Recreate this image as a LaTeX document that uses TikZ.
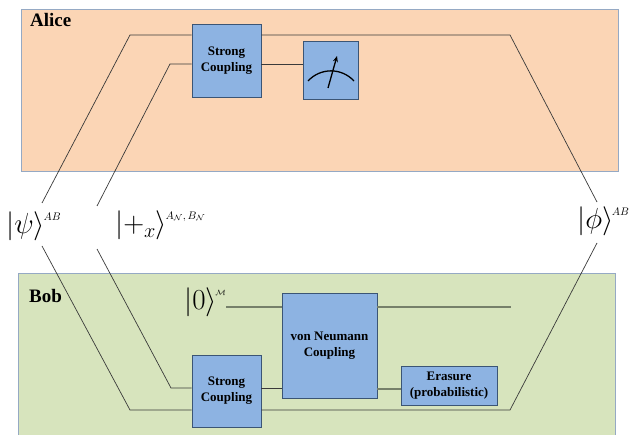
\RequirePackage{fix-cm}
\documentclass[tikz,border=0pt]{standalone}
\usepackage{fontspec}
\setmainfont{Liberation Serif}
\usepackage{amsmath}
\usetikzlibrary{calc,positioning,arrows.meta}
\definecolor{color_alice_fill}{HTML}{FBD5B5}
\definecolor{color_bob_fill}{HTML}{D7E4BD}
\definecolor{color_region_draw}{HTML}{95A9C4}
\definecolor{color_gate_fill}{HTML}{8DB3E2}
\definecolor{color_gate_draw}{HTML}{3B5575}
\definecolor{color_wire}{HTML}{3A3A3A}
\definecolor{color_soft_wire}{HTML}{76806A}
\newcommand{\kettag}[1]{\mbox{\fontsize{11}{11}\selectfont$#1$}}
\newcommand{\qket}[2]{$\left|\rule[-8pt]{0pt}{22pt}#1\right\rangle^{\kern-1.5pt\kettag{#2}}$}

\begin{document}
\begin{tikzpicture}[x=1pt,y=-1pt,
		gate/.style={draw=color_gate_draw,fill=color_gate_fill,line width=0.8pt,inner sep=0,align=center,font=\fontsize{13}{16}\selectfont\bfseries},
		wire/.style={color_wire,line width=0.7pt},
		softwire/.style={color_soft_wire,line width=1.1pt},
		ket/.style={inner sep=0,anchor=base west,font=\fontsize{29}{29}\selectfont},
		party/.style={inner sep=0,anchor=base west,font=\fontsize{19}{19}\selectfont\bfseries}]
				\useasboundingbox (0,0) rectangle (631,435);
				% Regions
				\draw[fill=color_alice_fill,draw=color_region_draw] (21,9) rectangle (618,171);
				\draw[fill=color_bob_fill,draw=color_region_draw] (18,273) rectangle (615,445);
				\node[party] (alice) at (30,27) {Alice};
				\node[party] (bob) at (29,302) {Bob};
				
				% Gates
				\node[gate,minimum width=69pt,minimum height=73pt] (scA) at (226.5,60.5) {Strong\\Coupling};
				\node[gate,minimum width=55pt,minimum height=58pt] (meter) at (330.5,70) {};
				\node[gate,minimum width=69pt,minimum height=72pt] (scB) at (226.5,391) {Strong\\Coupling};
				\node[gate,minimum width=95pt,minimum height=105pt] (vn) at (329.5,345.5) {von Neumann\\Coupling};
				\node[gate,minimum width=96pt,minimum height=39pt] (erasure) at (449,385.5) {Erasure\\(probabilistic)};
				
				% Kets
				\node[ket] (psi) at (6,234) {\qket{\psi}{AB}};
				\node[ket] (plus) at (115,233) {\qket{+_x}{A_{\mathcal{N}},B_{\mathcal{N}}}};
				\node[ket] (phi) at (577,229) {\qket{\phi}{AB}};
				\node[ket] (zero) at (184,309) {\qket{0}{\scriptstyle\mathcal{M}}};
				
				% Points
				\coordinate (psiU) at (42,203);
				\coordinate (psiD) at (42,246);
				\coordinate (plusU) at (97,206);
				\coordinate (plusD) at (97,249);
				\coordinate (phiU) at (597,202);
				\coordinate (phiD) at (597,243);
				\coordinate (topL) at (130,35);
				\coordinate (topR) at (510,35);
				\coordinate (midL) at (170,64);
				\coordinate (botL) at (130,410);
				\coordinate (botR) at (510,410);
				\coordinate (lowL) at (171,388);
				\coordinate (zeroR) at (511,307);
				\coordinate (eraL) at (401,389);
				
				% Wires
				\draw[wire] (psiU) -- (topL) -- (topL -| scA.west);
				\draw[wire] (topL -| scA.east) -- (topR) -- (phiU);
				\draw[wire] (plusU) -- (midL) -- (midL -| scA.west);
				\draw[wire] (midL -| scA.east) -- (midL -| meter.west);
				\draw[wire] (psiD) -- (botL) -- (botL -| scB.west);
				\draw[wire] (botL -| scB.east) -- (botR) -- (phiD);
				\draw[wire] (plusD) -- (lowL) -- (lowL -| scB.west);
				\draw[wire] (lowL -| scB.east) -- (lowL -| vn.west);
				\draw[softwire] (zero.east |- zeroR) -- (zeroR -| vn.west);
				\draw[softwire] (zeroR -| vn.east) -- (zeroR);
				\draw[softwire] (eraL -| vn.east) -- (eraL -| erasure.west);
				
				% Meter
				\draw[line width=1.3pt]
					($(meter.center)+(-22.5,11)$) .. controls ($(meter.center)+(-10,-2.5)$) and ($(meter.center)+(11,-2.5)$) .. ($(meter.center)+(23.5,11)$);
				\draw[line width=1.3pt,-{Stealth[length=6pt,width=5pt]}]
					($(meter.center)+(-2.5,18)$) -- ($(meter.center)+(6.5,-14)$);
			\end{tikzpicture}
\end{document}
